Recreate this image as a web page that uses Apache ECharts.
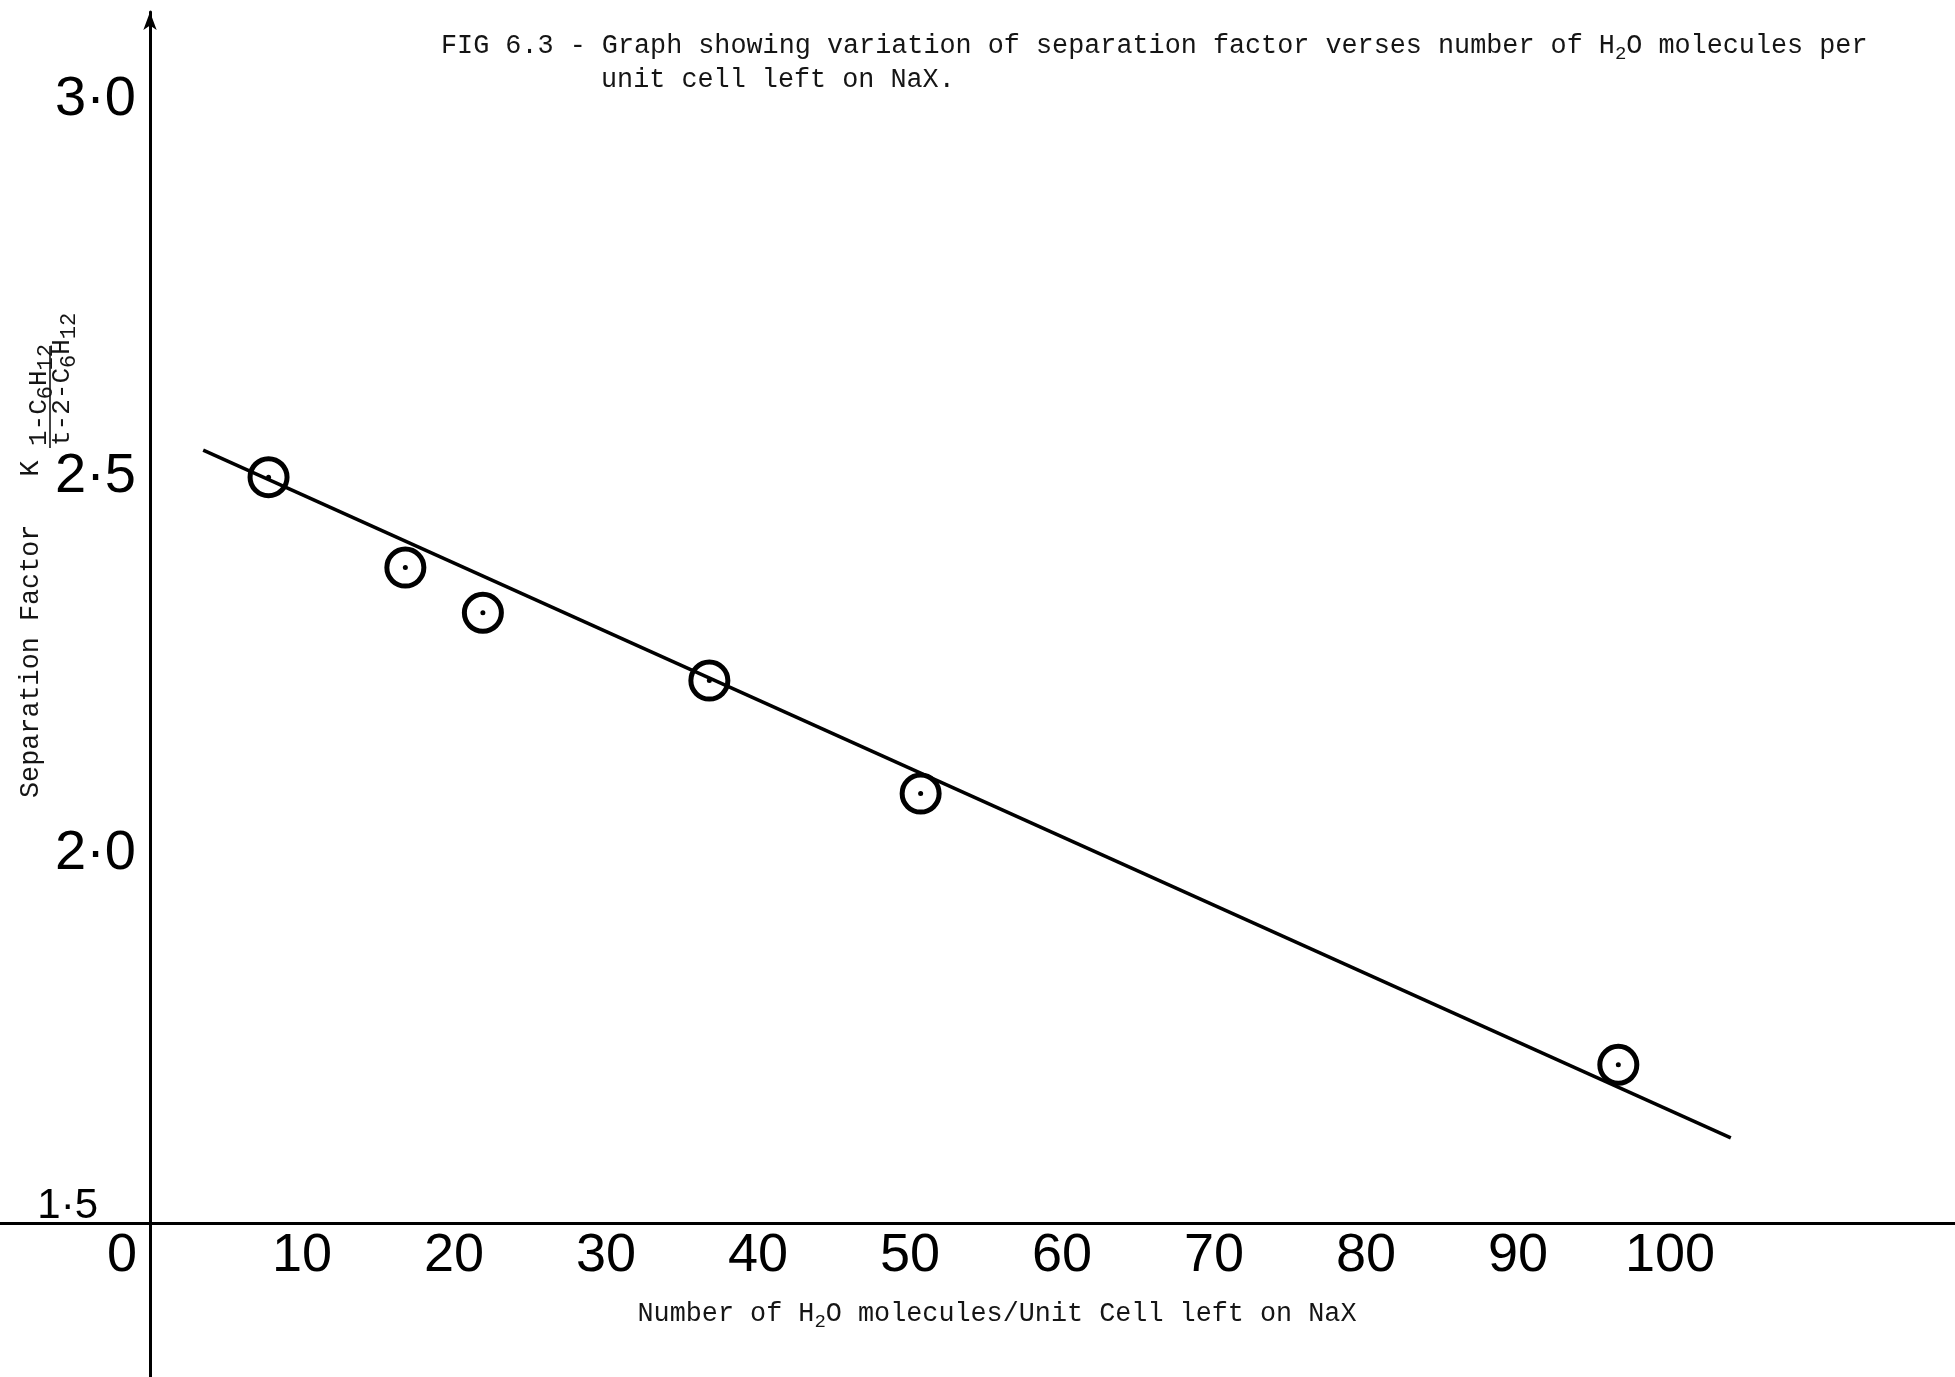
<!DOCTYPE html>
<html>
<head>
<meta charset="utf-8">
<script src="https://cdn.jsdelivr.net/npm/echarts@6/dist/echarts.min.js"></script>
<style>
html,body{margin:0;padding:0;background:#fff;}
#chart{width:1955px;height:1377px;}
</style>
</head>
<body>
<div id="chart"></div>
<script>
// ---- data ----
const waterMolecules   = [7.8, 16.8, 21.9, 36.8, 50.7, 96.6];
const separationFactor = [2.49, 2.37, 2.31, 2.22, 2.07, 1.71];
const fitLineX = [3.5, 104.0];
const fitLineY = [2.526, 1.613];
const xTickValues = [0, 10, 20, 30, 40, 50, 60, 70, 80, 90, 100];
const xTickLabels = ['0', '10', '20', '30', '40', '50', '60', '70', '80', '90', '100'];
const yTickValues = [1.5, 2.0, 2.5, 3.0];
const yTickLabels = ['1·5', '2·0', '2·5', '3·0'];

const hand = "'Liberation Sans Narrow', 'Liberation Sans', Arial, sans-serif";
const mono = "'Liberation Mono', 'DejaVu Sans Mono', monospace";

const points = waterMolecules.map((x, i) => [x, separationFactor[i]]);
const fitLine = fitLineX.map((x, i) => [x, fitLineY[i]]);

const typeRich = {
  t: { fontFamily: mono, fontSize: 26.8, lineHeight: 30, fill: '#151515' },
  s: { fontFamily: mono, fontSize: 19, lineHeight: 14, padding: [16, 0, 0, 0], fill: '#151515' }
};
const typeRichFrac = {
  t: { fontFamily: mono, fontSize: 26, lineHeight: 28, fill: '#151515' },
  s: { fontFamily: mono, fontSize: 22, lineHeight: 14, padding: [14, 0, 0, 0], fill: '#151515' }
};

const chart = echarts.init(document.getElementById('chart'), null, { renderer: 'canvas' });
chart.setOption({
  animation: false,
  backgroundColor: '#ffffff',
  grid: { left: 0, right: 0, top: 12, bottom: 0, containLabel: false, outerBoundsMode: 'none' },
  xAxis: {
    type: 'value',
    min: -9.868,
    max: 118.75,
    position: 'bottom',
    offset: -154,
    splitLine: { show: false },
    axisTick: { show: false },
    axisLine: { show: true, onZero: false, lineStyle: { color: '#000', width: 3 } },
    axisLabel: {
      customValues: xTickValues,
      margin: 6,
      fontFamily: hand,
      fontSize: 54,
      color: '#000',
      formatter: function (v) {
        const i = xTickValues.indexOf(v);
        const s = i >= 0 ? xTickLabels[i] : '';
        return v === 0 ? '{z|' + s + '}' : s;
      },
      rich: { z: { fontFamily: hand, fontSize: 54, color: '#000', padding: [0, 56, 0, 0] } }
    }
  },
  yAxis: {
    type: 'value',
    min: 1.2956,
    max: 3.1075,
    position: 'left',
    offset: -150,
    splitLine: { show: false },
    axisTick: { show: false },
    axisLine: {
      show: true, onZero: false,
      symbol: ['none', 'arrow'], symbolSize: [10, 18],
      lineStyle: { color: '#000', width: 3 }
    },
    axisLabel: {
      show: true,
      customValues: yTickValues,
      margin: 14,
      padding: [14, 0, 0, 0],
      fontFamily: hand,
      fontSize: 56,
      color: '#000',
      formatter: function (v) {
        let i = -1;
        for (let k = 0; k < yTickValues.length; k++) {
          if (Math.abs(yTickValues[k] - v) < 1e-6) { i = k; }
        }
        const s = i >= 0 ? yTickLabels[i] : '';
        return i === 0 ? '{low|' + s + '}' : s;
      },
      rich: { low: { fontFamily: hand, fontSize: 42, color: '#000', padding: [0, 38, 48, 0] } }
    }
  },
  series: [
    {
      type: 'line',
      data: fitLine,
      symbol: 'none',
      lineStyle: { color: '#000', width: 3.5 },
      z: 2
    },
    {
      type: 'scatter',
      data: points,
      symbol: 'circle',
      symbolSize: 37,
      itemStyle: { color: 'rgba(255,255,255,0)', borderColor: '#000', borderWidth: 5, opacity: 1 },
      z: 3
    },
    {
      type: 'scatter',
      data: points,
      symbol: 'circle',
      symbolSize: 5,
      itemStyle: { color: '#000', opacity: 1 },
      z: 4
    }
  ],
  graphic: [
    {
      type: 'text', x: 441, y: 46,
      style: {
        text: '{t|FIG 6.3 - Graph showing variation of separation factor verses number of H}{s|2}{t|O molecules per}',
        rich: typeRich, align: 'left', verticalAlign: 'middle', fill: '#151515'
      }
    },
    {
      type: 'text', x: 601, y: 80,
      style: {
        text: '{t|unit cell left on NaX.}',
        rich: typeRich, align: 'left', verticalAlign: 'middle', fill: '#151515'
      }
    },
    {
      type: 'text', x: 997, y: 1314,
      style: {
        text: '{t|Number of H}{s|2}{t|O molecules/Unit Cell left on NaX}',
        rich: typeRich, align: 'center', verticalAlign: 'middle', fill: '#151515'
      }
    },
    {
      type: 'group', x: 31, y: 798, rotation: Math.PI / 2,
      children: [
        {
          type: 'text', x: 0, y: 0,
          style: {
            text: '{t|Separation Factor   K}',
            rich: typeRich, align: 'left', verticalAlign: 'middle', fill: '#151515'
          }
        },
        {
          type: 'text', x: 352, y: 8,
          style: {
            text: '{t|1-C}{s|6}{t|H}{s|12}',
            rich: typeRichFrac, align: 'left', verticalAlign: 'middle', fill: '#151515'
          }
        },
        {
          type: 'line',
          shape: { x1: 350, y1: 19, x2: 452, y2: 19 },
          style: { stroke: '#151515', lineWidth: 1.6 }
        },
        {
          type: 'text', x: 352, y: 31,
          style: {
            text: '{t|t-2-C}{s|6}{t|H}{s|12}',
            rich: typeRichFrac, align: 'left', verticalAlign: 'middle', fill: '#151515'
          }
        }
      ]
    }
  ]
});
</script>
</body>
</html>
